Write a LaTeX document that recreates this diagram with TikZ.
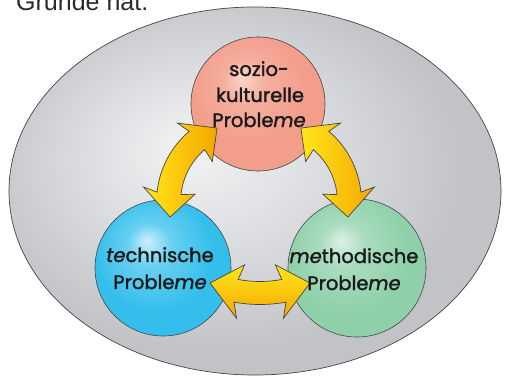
\documentclass[tikz,border=0pt]{standalone}
\usepackage{fontspec}
\setmainfont{Poppins}
\newfontfamily\lblfont{Poppins}[FakeBold=1.6]
\newfontfamily\headfont{Liberation Sans}
\usetikzlibrary{calc,shapes.geometric}
\definecolor{ellL}{HTML}{F2F3F4}
\definecolor{ellM}{HTML}{E0E1E4}
\definecolor{ellD}{HTML}{C2C3C7}
\definecolor{salL}{HTML}{FAD6CC}
\definecolor{salD}{HTML}{F39D8B}
\definecolor{bluL}{HTML}{CDEFFB}
\definecolor{bluD}{HTML}{33BEEC}
\definecolor{grnL}{HTML}{DDF1E5}
\definecolor{grnD}{HTML}{8FD0AA}
\definecolor{yel}{HTML}{FFE71A}
\definecolor{org}{HTML}{F5A600}
\definecolor{outl}{HTML}{454545}
\definecolor{txt}{HTML}{1A1A1A}
\definecolor{headtxt}{HTML}{2A2A2A}
\pgfdeclareradialshading{ellshade}{\pgfpoint{-7bp}{6bp}}{color(0bp)=(ellL); color(10bp)=(ellM); color(25bp)=(ellD); color(50bp)=(ellD)}
\pgfdeclareradialshading{ballS}{\pgfpoint{-6bp}{10bp}}{color(0bp)=(salL); color(8bp)=(salD!70!salL); color(22bp)=(salD); color(50bp)=(salD)}
\pgfdeclareradialshading{ballB}{\pgfpoint{-6bp}{10bp}}{color(0bp)=(bluL); color(8bp)=(bluD!65!bluL); color(22bp)=(bluD); color(50bp)=(bluD)}
\pgfdeclareradialshading{ballG}{\pgfpoint{-6bp}{10bp}}{color(0bp)=(grnL); color(8bp)=(grnD!65!grnL); color(22bp)=(grnD); color(50bp)=(grnD)}
\newcommand\dblarc[8]{%
\path[#8] ([shift={(#3:#2)}]#1) -- ([shift={({#3+#7+2}:{#2+#6})}]#1) -- ([shift={({#3+#7}:{#2+#5})}]#1)
 arc[start angle={#3+#7}, end angle={#4-#7}, radius={(#2+#5)*1pt}]
 -- ([shift={({#4-#7-2}:{#2+#6})}]#1) -- ([shift={(#4:#2)}]#1) -- ([shift={({#4-#7-2}:{#2-#6})}]#1) -- ([shift={({#4-#7}:{#2-#5})}]#1)
 arc[start angle={#4-#7}, end angle={#3+#7}, radius={(#2-#5)*1pt}]
 -- ([shift={({#3+#7+2}:{#2-#6})}]#1) -- cycle;}
\tikzset{
  ball/.style={circle, draw=outl, line width=0.6pt, inner sep=0pt},
  arrowLR/.style={draw=outl, line width=0.7pt, line join=miter, left color=yel, right color=org},
  arrowTB/.style={draw=outl, line width=0.7pt, line join=miter, top color=yel, bottom color=org},
  lbl/.style={anchor=base, inner sep=0pt, text=txt, font=\lblfont\fontsize{19.5}{23}\selectfont}
}
\begin{document}
\begin{tikzpicture}[x=1pt,y=1pt]
\useasboundingbox (0,0) rectangle (505,378);
\clip (0,0) rectangle (505,378);
\fill[white] (0,0) rectangle (505,378);
\node[anchor=base west, inner sep=0pt, text=headtxt, font=\headfont\fontsize{25}{30}\selectfont] (head) at (16,367) {Gründe hat.};
\node[ellipse, draw=outl, line width=0.7pt, shading=ellshade, minimum width=492, minimum height=368, inner sep=0pt] (bg) at (255,187) {};
\node[ball, shading=ballS, minimum size=134] (soz) at (258,274) {};
\node[ball, shading=ballB, minimum size=136] (tec) at (163,110) {};
\node[ball, shading=ballG, minimum size=138] (met) at (357,110) {};
\coordinate (cL) at (248.6,176.4);
\coordinate (cR) at (269.4,176.4);
\coordinate (cB) at (260,215);
\dblarc{cL}{80}{113.2}{191.1}{12}{26}{17}{arrowLR}
\dblarc{cR}{80}{-11.1}{66.8}{12}{26}{17}{arrowLR}
\dblarc{cB}{130}{247.4}{292.6}{11.5}{27}{12}{arrowTB}
\node[lbl] (s1) at (259,302) {sozio-};
\node[lbl] (s2) at (260,276) {kulturelle};
\node[lbl] (s3) at (259,251) {Proble\textit{me}};
\node[lbl] (t1) at (160,116) {\textit{te}chnische};
\node[lbl] (t2) at (160,89) {Proble\textit{me}};
\node[lbl] (m1) at (354,115) {\textit{me}thodische};
\node[lbl] (m2) at (354,88) {Proble\textit{me}};
\end{tikzpicture}
\end{document}
